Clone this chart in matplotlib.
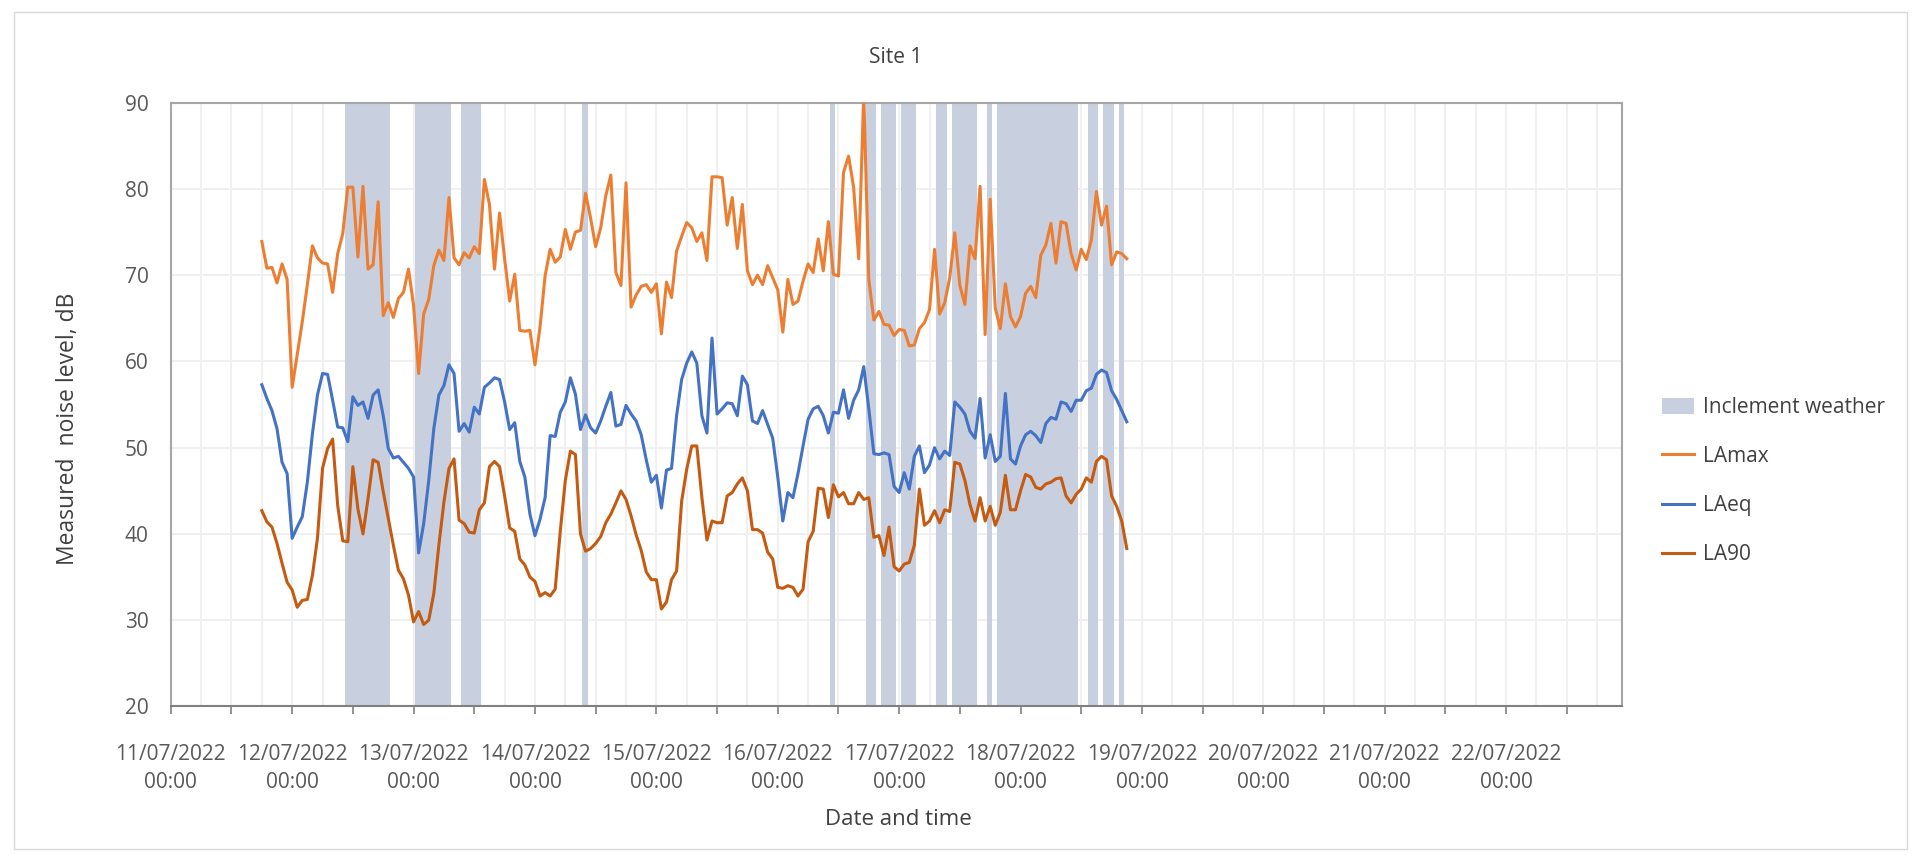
import numpy as np
import pandas as pd
import matplotlib
matplotlib.use('Agg')
import matplotlib.pyplot as plt
import matplotlib.dates as mdates
from matplotlib.patches import Patch, Rectangle
from matplotlib.lines import Line2D
from matplotlib.ticker import FuncFormatter

plt.rcParams['font.family'] = ['Open Sans', 'DejaVu Sans']

# hourly readings, first one at 11/07/2022 18:00
start = '2022-07-11 18:00'

la_max = [
	73.9, 70.8, 70.9, 69.1, 71.3, 69.5, 57.0, 60.8, 64.6, 68.9,
	73.4, 72.0, 71.4, 71.3, 68.0, 72.5, 74.8, 80.2, 80.2, 72.1,
	80.3, 70.7, 71.2, 78.5, 65.3, 66.8, 65.1, 67.3, 68.0, 70.7,
	66.5, 58.6, 65.5, 67.2, 71.1, 72.9, 71.7, 79.0, 72.0, 71.2,
	72.6, 72.0, 73.3, 72.5, 81.1, 78.2, 70.7, 77.2, 71.9, 67.0,
	70.1, 63.6, 63.5, 63.6, 59.6, 64.0, 69.9, 73.0, 71.5, 72.1,
	75.3, 73.0, 75.0, 75.2, 79.5, 76.6, 73.3, 75.5, 79.2, 81.6,
	70.3, 68.8, 80.7, 66.3, 67.7, 68.7, 68.9, 68.0, 69.0, 63.2,
	69.2, 67.4, 72.8, 74.5, 76.1, 75.5, 73.9, 74.9, 71.7, 81.4,
	81.4, 81.3, 75.8, 79.0, 73.1, 78.2, 70.5, 68.9, 70.0, 68.9,
	71.1, 69.7, 68.3, 63.4, 69.5, 66.6, 67.0, 69.3, 71.3, 70.3,
	74.2, 70.5, 76.2, 70.1, 69.9, 81.9, 83.8, 80.2, 71.9, 91.0,
	69.5, 64.8, 65.8, 64.3, 64.2, 63.0, 63.7, 63.6, 61.8, 61.9,
	63.8, 64.5, 66.0, 73.0, 65.5, 66.8, 69.7, 74.9, 68.8, 66.6,
	73.4, 71.9, 80.3, 63.1, 78.8, 66.2, 63.8, 69.0, 65.2, 64.0,
	65.2, 67.9, 68.7, 67.4, 72.3, 73.5, 76.0, 71.4, 76.2, 76.0,
	72.5, 70.6, 73.0, 71.8, 74.1, 79.7, 75.8, 78.0, 71.2, 72.7,
	72.5, 71.9,
]

la_eq = [
	57.3, 55.7, 54.3, 52.2, 48.3, 47.0, 39.5, 40.8, 42.0, 46.0,
	51.6, 56.1, 58.6, 58.5, 55.5, 52.4, 52.3, 50.7, 55.9, 54.9,
	55.3, 53.4, 56.1, 56.7, 53.7, 49.9, 48.8, 49.0, 48.3, 47.6,
	46.6, 37.8, 41.2, 46.2, 52.2, 56.1, 57.2, 59.6, 58.6, 51.9,
	52.8, 51.8, 54.7, 53.9, 57.0, 57.5, 58.1, 57.9, 55.3, 52.1,
	52.9, 48.4, 46.6, 42.3, 39.8, 41.7, 44.2, 51.4, 51.3, 54.1,
	55.3, 58.1, 56.2, 52.1, 53.8, 52.3, 51.7, 53.1, 54.8, 56.4,
	52.5, 52.7, 54.9, 53.9, 53.1, 51.5, 48.6, 46.0, 46.8, 43.0,
	47.4, 47.6, 53.7, 57.9, 59.8, 61.1, 59.8, 53.7, 51.7, 62.7,
	53.9, 54.5, 55.2, 55.1, 53.7, 58.3, 57.3, 53.1, 52.8, 54.3,
	52.7, 51.1, 46.6, 41.5, 44.8, 44.2, 47.0, 50.2, 53.3, 54.5,
	54.8, 53.7, 51.7, 54.1, 54.0, 56.7, 53.4, 55.5, 56.7, 59.4,
	54.5, 49.3, 49.2, 49.4, 49.2, 45.5, 44.8, 47.1, 45.2, 49.0,
	50.2, 47.1, 48.0, 50.0, 48.7, 49.6, 49.1, 55.3, 54.7, 53.9,
	51.9, 51.1, 55.7, 48.8, 51.5, 48.4, 49.0, 56.3, 48.7, 48.1,
	50.2, 51.5, 51.9, 51.4, 50.6, 52.8, 53.5, 53.3, 55.3, 55.1,
	54.2, 55.5, 55.5, 56.6, 56.9, 58.5, 59.0, 58.7, 56.6, 55.6,
	54.3, 53.0,
]

la_90 = [
	42.7, 41.4, 40.8, 38.9, 36.6, 34.4, 33.5, 31.5, 32.3, 32.4,
	35.2, 39.5, 47.6, 49.9, 51.0, 43.3, 39.2, 39.1, 47.8, 42.9,
	40.0, 44.1, 48.6, 48.3, 44.9, 41.8, 38.7, 35.8, 34.8, 32.9,
	29.8, 31.0, 29.5, 30.0, 33.1, 38.7, 43.7, 47.6, 48.7, 41.6,
	41.2, 40.2, 40.1, 42.8, 43.6, 47.8, 48.4, 47.8, 44.4, 40.7,
	40.3, 37.1, 36.4, 35.0, 34.5, 32.8, 33.2, 32.8, 33.6, 40.3,
	46.2, 49.6, 49.2, 40.0, 38.0, 38.3, 38.9, 39.7, 41.3, 42.3,
	43.6, 45.0, 44.0, 42.1, 39.9, 38.1, 35.6, 34.7, 34.7, 31.3,
	32.1, 34.7, 35.7, 43.8, 47.5, 50.2, 50.2, 44.2, 39.3, 41.5,
	41.3, 41.3, 44.4, 44.8, 45.8, 46.5, 45.0, 40.5, 40.5, 40.1,
	37.9, 37.1, 33.8, 33.7, 34.0, 33.8, 32.8, 33.6, 39.1, 40.3,
	45.3, 45.2, 41.9, 45.7, 44.3, 44.8, 43.5, 43.5, 44.8, 44.0,
	44.2, 39.6, 39.8, 37.5, 40.8, 36.2, 35.7, 36.5, 36.7, 38.7,
	45.2, 41.0, 41.5, 42.7, 41.3, 42.8, 42.6, 48.3, 48.1, 46.2,
	43.4, 41.5, 44.2, 41.5, 43.2, 41.0, 42.5, 46.8, 42.8, 42.8,
	45.0, 46.9, 46.6, 45.4, 45.2, 45.8, 46.0, 46.4, 46.5, 44.4,
	43.6, 44.6, 45.2, 46.5, 46.0, 48.4, 49.0, 48.6, 44.4, 43.2,
	41.5, 38.3,
]

# hours flagged as inclement weather (first and last hour of each run)
weather_periods = [
	('2022-07-12 11:00', '2022-07-12 19:00'),
	('2022-07-13 01:00', '2022-07-13 07:00'),
	('2022-07-13 10:00', '2022-07-13 13:00'),
	('2022-07-14 10:00', '2022-07-14 10:00'),
	('2022-07-16 11:00', '2022-07-16 11:00'),
	('2022-07-16 18:00', '2022-07-16 19:00'),
	('2022-07-16 21:00', '2022-07-16 23:00'),
	('2022-07-17 01:00', '2022-07-17 03:00'),
	('2022-07-17 08:00', '2022-07-17 09:00'),
	('2022-07-17 11:00', '2022-07-17 15:00'),
	('2022-07-17 18:00', '2022-07-17 18:00'),
	('2022-07-17 20:00', '2022-07-18 11:00'),
	('2022-07-18 14:00', '2022-07-18 15:00'),
	('2022-07-18 17:00', '2022-07-18 18:00'),
	('2022-07-18 20:00', '2022-07-18 20:00'),
]

c_max = '#ED7D31'
c_eq = '#4472C4'
c_90 = '#C55A11'
c_wx = '#c8d0df'
c_text = '#404040'
c_tick = '#595959'

times = pd.date_range(start, periods=len(la_max), freq='h')
wx_hours = pd.DatetimeIndex(np.concatenate([pd.date_range(a, b, freq='h').values for a, b in weather_periods]))

fig = plt.figure(figsize=(19.21, 8.56), dpi=100)
ax = fig.add_axes([0.0889, 0.1747, 0.7557, 0.7054])

# weather columns run full height of the plot
hour = pd.Timedelta(hours=1)
ax.bar(wx_hours - 0.62 * hour, 90, width=1.02 / 24, align='edge', color=c_wx, linewidth=0, zorder=1)

ax.plot(times, la_max, color=c_max, lw=2.2, solid_joinstyle='round', zorder=3)
ax.plot(times, la_eq, color=c_eq, lw=2.2, solid_joinstyle='round', zorder=3)
ax.plot(times, la_90, color=c_90, lw=2.2, solid_joinstyle='round', zorder=3)

ax.set_xlim(pd.Timestamp('2022-07-11 00:00'), pd.Timestamp('2022-07-22 23:00'))
ax.set_ylim(20, 90)
ax.set_yticks(np.arange(20, 91, 10))

ax.xaxis.set_major_locator(mdates.HourLocator(byhour=[0, 12]))
ax.xaxis.set_minor_locator(mdates.HourLocator(byhour=[0, 6, 12, 18]))

def date_label(x, pos):
	d = mdates.num2date(x)
	if d.hour == 0:
		return d.strftime('%d/%m/%Y\n%H:%M')
	return ''

ax.xaxis.set_major_formatter(FuncFormatter(date_label))

ax.set_axisbelow(True)
ax.grid(which='both', axis='x', color='#efefef', lw=1.3)
ax.grid(which='major', axis='y', color='#efefef', lw=1.3)

ax.tick_params(axis='x', which='major', length=6, width=1.2, color='#808080', pad=21,
	labelsize=15, labelcolor=c_tick)
ax.tick_params(axis='x', which='minor', length=0)
ax.tick_params(axis='y', length=0, pad=16, labelsize=15, labelcolor=c_tick)
for lab in ax.get_xticklabels():
	lab.set_linespacing(1.45)

for side in ['top', 'left', 'right']:
	ax.spines[side].set_color('#a6a6a6')
	ax.spines[side].set_linewidth(1.5)
ax.spines['bottom'].set_color('#808080')
ax.spines['bottom'].set_linewidth(1.5)

fig.text(0.4665, 0.933, 'Site 1', ha='center', va='center', fontsize=15, color=c_text)
fig.text(0.0352, 0.4985, 'Measured  noise level, dB', rotation=90, ha='center', va='center',
	fontsize=16.5, color=c_text)
fig.text(0.4675, 0.0425, 'Date and time', ha='center', va='center', fontsize=16, color=c_text)

handles = [
	Patch(facecolor=c_wx, label='Inclement weather'),
	Line2D([], [], color=c_max, lw=2.2, label='LAmax'),
	Line2D([], [], color=c_eq, lw=2.2, label='LAeq'),
	Line2D([], [], color=c_90, lw=2.2, label='LA90'),
]
fig.legend(handles=handles, loc='center left', bbox_to_anchor=(0.8600, 0.438), frameon=False,
	fontsize=15, labelcolor=c_text, handlelength=1.5, handleheight=0.8, labelspacing=1.35,
	handletextpad=0.45, borderpad=0)

# chart border
fig.add_artist(Rectangle((14 / 1921, 1 - 849 / 856), 1893 / 1921, 837 / 856, transform=fig.transFigure,
	fill=False, edgecolor='#d9d9d9', lw=1))

fig.savefig('out.png', dpi=100)
